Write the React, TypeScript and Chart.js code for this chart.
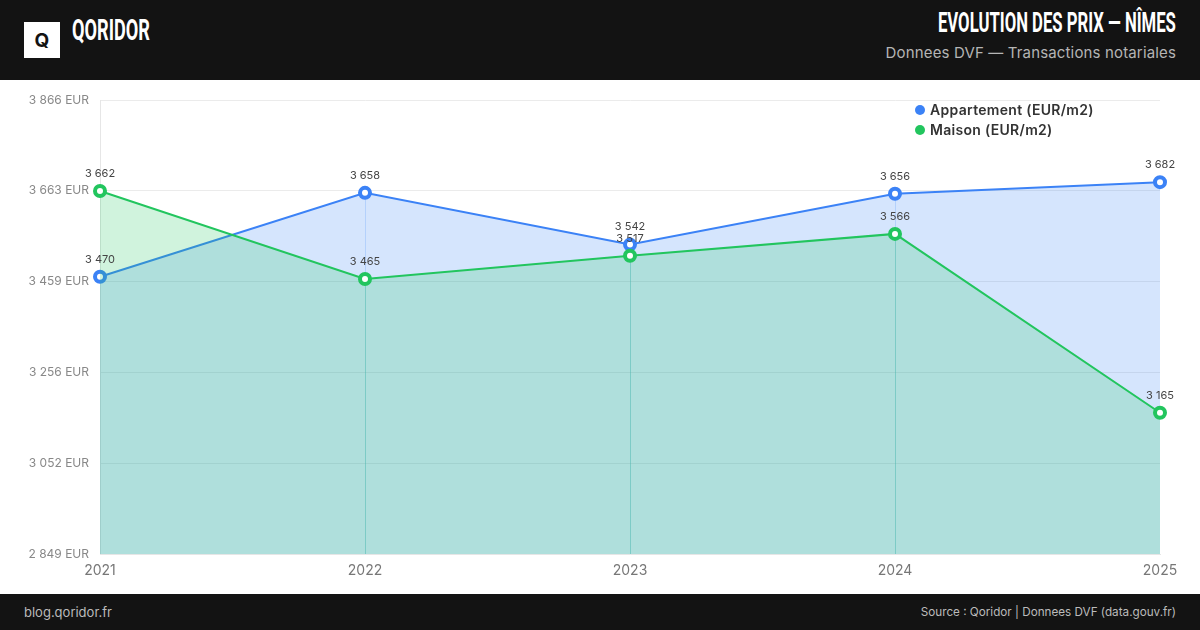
import React, { useEffect, useLayoutEffect, useRef } from 'react';
import { Chart, registerables } from 'chart.js';

Chart.register(...registerables);

// Data
const years = ['2021', '2022', '2023', '2024', '2025'];
const appartement = [3470, 3658, 3542, 3656, 3682];
const maison = [3662, 3465, 3517, 3566, 3165];

// Axis bounds (min = lowest * 0.9, max = highest * 1.05)
const Y_MIN = 2848.5;
const Y_MAX = 3866.1;

const BLUE = '#3b82f6';
const GREEN = '#22c55e';
const BLUE_FILL = 'rgba(59, 130, 246, 0.21)';
const GREEN_FILL = 'rgba(34, 197, 94, 0.21)';

const fmt = (v: number) =>
  Math.round(v).toString().replace(/\B(?=(\d{3})+(?!\d))/g, ' ');

// faint seams under each inner point, like the fill joints in the original
const fillSeams = {
  id: 'fillSeams',
  beforeDatasetsDraw(chart: Chart) {
    const ctx = chart.ctx;
    const bottom = chart.chartArea.bottom;
    ctx.save();
    ctx.lineWidth = 1;
    chart.data.datasets.forEach((ds, i) => {
      const meta = chart.getDatasetMeta(i);
      ctx.strokeStyle = ds.backgroundColor as string;
      meta.data.forEach((pt: any, j: number) => {
        if (j === 0 || j === meta.data.length - 1) return;
        ctx.beginPath();
        ctx.moveTo(Math.round(pt.x) + 0.5, pt.y);
        ctx.lineTo(Math.round(pt.x) + 0.5, bottom);
        ctx.stroke();
      });
    });
    ctx.restore();
  },
};

const valueLabels = {
  id: 'valueLabels',
  afterDatasetsDraw(chart: Chart) {
    const ctx = chart.ctx;
    ctx.save();
    ctx.font = '11px Inter';
    ctx.fillStyle = '#444';
    ctx.textAlign = 'center';
    ctx.textBaseline = 'bottom';
    chart.data.datasets.forEach((ds, i) => {
      const meta = chart.getDatasetMeta(i);
      meta.data.forEach((pt: any, j: number) => {
        ctx.fillText(fmt(ds.data[j] as number), pt.x, pt.y - 12);
      });
    });
    ctx.restore();
  },
};

const PriceChart: React.FC = () => {
  const canvasRef = useRef<HTMLCanvasElement | null>(null);

  useEffect(() => {
    if (!canvasRef.current) return;
    const chart = new Chart(canvasRef.current, {
      type: 'line',
      data: {
        labels: years,
        datasets: [
          {
            label: 'Appartement (EUR/m2)',
            data: appartement,
            borderColor: BLUE,
            backgroundColor: BLUE_FILL,
            borderWidth: 2,
            fill: 'origin',
            tension: 0,
            pointRadius: 5,
            pointBorderWidth: 4,
            pointBackgroundColor: '#fff',
            pointBorderColor: BLUE,
            order: 1,
          },
          {
            label: 'Maison (EUR/m2)',
            data: maison,
            borderColor: GREEN,
            backgroundColor: GREEN_FILL,
            borderWidth: 2,
            fill: 'origin',
            tension: 0,
            pointRadius: 5,
            pointBorderWidth: 4,
            pointBackgroundColor: '#fff',
            pointBorderColor: GREEN,
            order: 0,
          },
        ],
      },
      options: {
        responsive: true,
        maintainAspectRatio: false,
        animation: false,
        layout: { padding: { top: 20, right: 40, bottom: 0, left: 0 } },
        scales: {
          x: {
            offset: false,
            grid: { display: false, drawTicks: false },
            border: { display: true, color: '#e6e6e6' },
            ticks: { color: '#777', font: { family: 'Inter', size: 14 }, padding: 8, maxRotation: 0 },
            afterFit: (s: any) => { s.height = 40; },
          },
          y: {
            min: Y_MIN,
            max: Y_MAX,
            grid: { color: '#ebebeb', drawTicks: false },
            border: { display: true, color: '#e6e6e6' },
            ticks: {
              count: 6,
              color: '#888',
              font: { family: 'Inter', size: 12 },
              padding: 11,
              callback: (v: any) => `${fmt(Number(v))} EUR`,
            },
            afterFit: (s: any) => { s.width = 100; },
          },
        },
        plugins: {
          legend: { display: false },
          tooltip: { enabled: false },
        },
      },
      plugins: [fillSeams, valueLabels],
    });
    return () => chart.destroy();
  }, []);

  return <canvas ref={canvasRef} />;
};

// narrow display type: Roboto squeezed to the width of the original lettering
const Squeezed: React.FC<{ text: string; width: number; size: number; origin: 'left' | 'right' }> = ({ text, width, size, origin }) => {
  const ref = useRef<HTMLSpanElement | null>(null);
  useLayoutEffect(() => {
    const el = ref.current;
    if (!el) return;
    el.style.transform = 'none';
    const w = el.getBoundingClientRect().width;
    if (w > 0) el.style.transform = `scaleX(${width / w})`;
  }, [text, width]);
  return (
    <span
      ref={ref}
      style={{
        display: 'inline-block',
        whiteSpace: 'nowrap',
        fontFamily: 'Roboto, sans-serif',
        fontWeight: 700,
        fontSize: size,
        lineHeight: `${size}px`,
        color: '#fff',
        transformOrigin: `${origin} center`,
      }}
    >
      {text}
    </span>
  );
};

export default function App() {
  useEffect(() => {
    document.body.style.margin = '0';
  }, []);

  return (
    <div style={{ width: 1200, height: 630, position: 'relative', background: '#fff', fontFamily: 'Inter, sans-serif', overflow: 'hidden' }}>
      <div style={{ position: 'absolute', left: 0, top: 0, width: 1200, height: 80, background: '#131313' }}>
        <div style={{ position: 'absolute', left: 24, top: 22, width: 36, height: 36, background: '#fff', display: 'flex', alignItems: 'center', justifyContent: 'center' }}>
          <span style={{ fontFamily: 'Inter', fontWeight: 700, fontSize: 19, color: '#131313' }}>Q</span>
        </div>
        <div style={{ position: 'absolute', left: 72, top: 15 }}>
          <Squeezed text="QORIDOR" width={78} size={30} origin="left" />
        </div>
        <div style={{ position: 'absolute', right: 24, top: 9 }}>
          <Squeezed text="EVOLUTION DES PRIX — NÎMES" width={238} size={28} origin="right" />
        </div>
        <div style={{ position: 'absolute', right: 24, top: 43, fontSize: 15, letterSpacing: 0.15, color: '#b5b5b5' }}>Donnees DVF — Transactions notariales</div>
      </div>

      <div style={{ position: 'absolute', left: 0, top: 80, width: 1200, height: 514 }}>
        <PriceChart />
        <div style={{ position: 'absolute', left: 915, top: 20, fontWeight: 600, fontSize: 14, letterSpacing: 0.3, color: '#333', lineHeight: '20px' }}>
          <div style={{ display: 'flex', alignItems: 'center' }}>
            <span style={{ width: 10, height: 10, borderRadius: 5, background: BLUE, marginRight: 5 }} />Appartement (EUR/m2)
          </div>
          <div style={{ display: 'flex', alignItems: 'center' }}>
            <span style={{ width: 10, height: 10, borderRadius: 5, background: GREEN, marginRight: 5 }} />Maison (EUR/m2)
          </div>
        </div>
      </div>

      <div style={{ position: 'absolute', left: 0, top: 594, width: 1200, height: 36, background: '#131313' }}>
        <div style={{ position: 'absolute', left: 24, top: 10, fontSize: 13, color: '#bbb' }}>blog.qoridor.fr</div>
        <div style={{ position: 'absolute', right: 24, top: 11, fontSize: 11.7, color: '#bbb' }}>Source : Qoridor | Donnees DVF (data.gouv.fr)</div>
      </div>
    </div>
  );
}
